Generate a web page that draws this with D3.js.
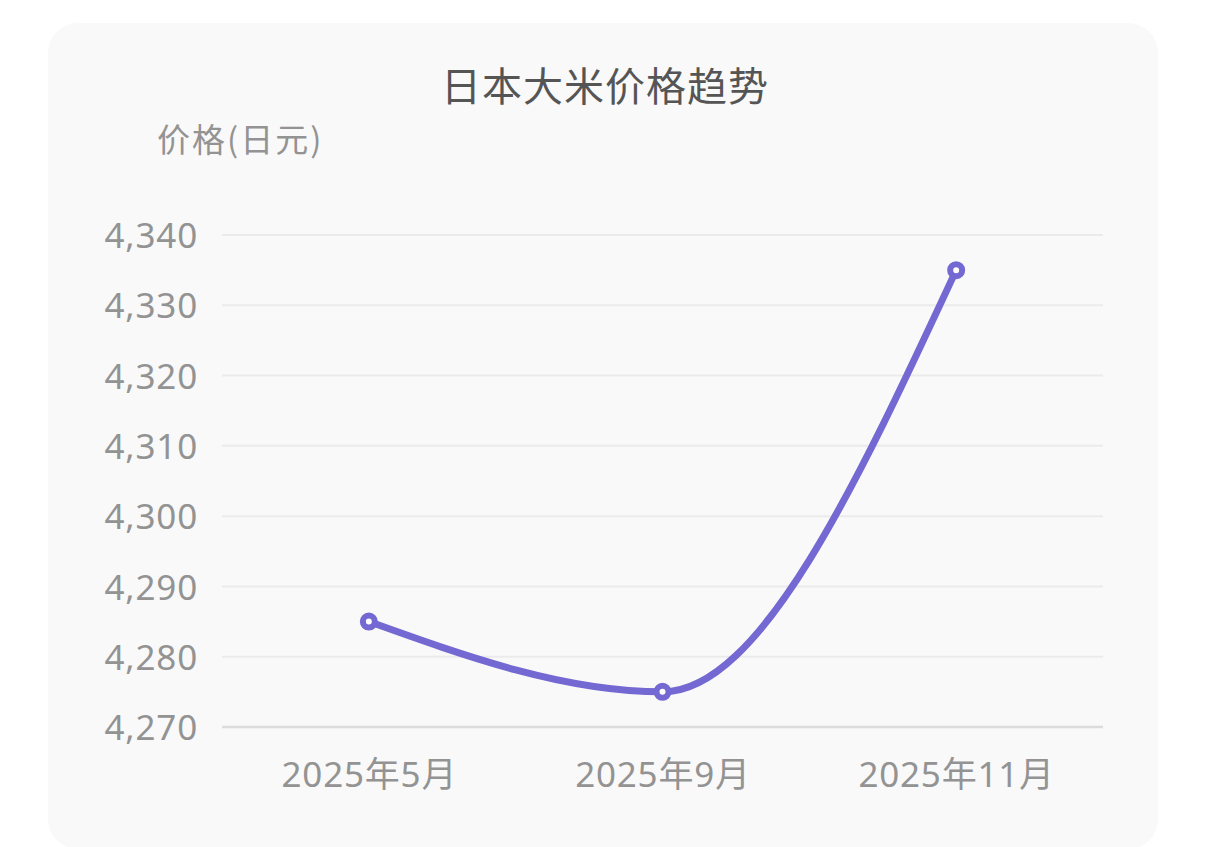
<!DOCTYPE html>
<html>
<head>
<meta charset="utf-8">
<script src="https://cdn.jsdelivr.net/npm/d3@7"></script>
<style>
  html, body { margin: 0; padding: 0; background: #ffffff; }
  svg { display: block; }
  text { font-family: "Noto Sans CJK SC", "Noto Sans", sans-serif; }
</style>
</head>
<body>
<script>
// Monthly rice price (yen)
const months = ["2025年5月", "2025年9月", "2025年11月"];
const prices = [4285, 4275, 4335];
const yTicks = [4270, 4280, 4290, 4300, 4310, 4320, 4330, 4340];
const title = "日本大米价格趋势";
const yAxisTitle = "价格(日元)";

const W = 1206, H = 847;
const svg = d3.select("body").append("svg").attr("width", W).attr("height", H);

// card background
svg.append("rect")
  .attr("x", 48).attr("y", 23).attr("width", 1110).attr("height", 826)
  .attr("rx", 30).attr("ry", 30)
  .attr("fill", "#f9f9f9");

const x = d3.scalePoint().domain(months).range([222, 1103]).padding(0.5);
const y = d3.scaleLinear().domain([4270, 4340]).range([727, 235]);

// title
svg.append("text")
  .attr("x", 605).attr("y", 101)
  .attr("text-anchor", "middle")
  .attr("font-size", 40)
  .attr("letter-spacing", 1)
  .attr("fill", "#555555")
  .text(title);

// y axis title
svg.append("text")
  .attr("x", 157).attr("y", 152)
  .attr("font-size", 33)
  .attr("letter-spacing", 2)
  .attr("fill", "#939393")
  .text(yAxisTitle);

// horizontal grid
const grid = svg.append("g");
grid.selectAll("line").data(yTicks).join("line")
  .attr("x1", 222).attr("x2", 1103)
  .attr("y1", d => y(d)).attr("y2", d => y(d))
  .attr("stroke", d => d === yTicks[0] ? "#dcdcdc" : "#ebebeb")
  .attr("stroke-width", d => d === yTicks[0] ? 2.5 : 2);

// y axis labels
const fmt = d3.format(",");
const yAxis = svg.append("g")
  .attr("transform", "translate(198,0)")
  .call(d3.axisLeft(y).tickValues(yTicks).tickFormat(fmt).tickSize(0).tickPadding(0));
yAxis.select(".domain").remove();
yAxis.selectAll("text")
  .attr("font-size", 35)
  .attr("letter-spacing", 0.8)
  .attr("fill", "#939393")
  .attr("dy", "0.36em")
  .style("font-family", "\"Noto Sans\", \"Noto Sans CJK SC\", sans-serif");

// x axis labels
const xAxis = svg.append("g")
  .attr("transform", "translate(0,727)")
  .call(d3.axisBottom(x).tickSize(0).tickPadding(0));
xAxis.select(".domain").remove();
xAxis.selectAll("text")
  .attr("font-size", 35)
  .attr("letter-spacing", 0.8)
  .attr("fill", "#939393")
  .attr("dy", "1.72em")
  .style("font-family", "\"Noto Sans\", \"Noto Sans CJK SC\", sans-serif");

// price line
const pts = months.map((m, i) => [x(m), y(prices[i])]);
const line = d3.line().curve(d3.curveMonotoneX);
svg.append("path")
  .attr("d", line(pts))
  .attr("fill", "none")
  .attr("stroke", "#7468d2")
  .attr("stroke-width", 7)
  .attr("stroke-linecap", "round");

// point markers
svg.selectAll("circle.pt").data(pts).join("circle")
  .attr("class", "pt")
  .attr("cx", d => d[0]).attr("cy", d => d[1])
  .attr("r", 6)
  .attr("fill", "#ffffff")
  .attr("stroke", "#7468d2")
  .attr("stroke-width", 6);
</script>
</body>
</html>
